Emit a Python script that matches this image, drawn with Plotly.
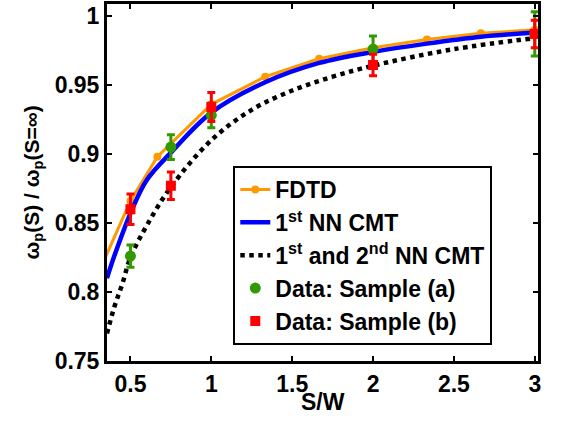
import plotly.graph_objects as go

# ---- data ----
fdtd_x = [1/3, 0.5, 2/3, 1.0, 4/3, 5/3, 2.0, 7/3, 8/3, 3.0]
fdtd_y = [0.822, 0.866, 0.898, 0.936, 0.956, 0.969, 0.977, 0.983, 0.9875, 0.990]

nn1_x = [0.355, 0.4, 0.5, 0.6, 0.75, 1.0, 1.333, 1.667, 2.0, 2.333, 2.667, 3.0]
nn1_y = [0.810, 0.826, 0.857, 0.881, 0.901, 0.930, 0.952, 0.966, 0.974, 0.980, 0.985, 0.988]

nn2_x = [0.355, 0.4, 0.45, 0.5, 0.6, 0.75, 1.0, 1.25, 1.5, 1.75, 2.0, 2.5, 3.0]
nn2_y = [0.770, 0.789, 0.806, 0.825, 0.848, 0.876, 0.910, 0.932, 0.946, 0.956, 0.964, 0.976, 0.984]

sa_x = [0.5, 0.75, 1.0, 2.0, 3.0]
sa_y = [0.826, 0.905, 0.928, 0.976, 0.987]
sa_err = [0.008, 0.009, 0.009, 0.0095, 0.016]

sb_x = [0.5, 0.75, 1.0, 2.0, 3.0]
sb_y = [0.860, 0.877, 0.934, 0.9645, 0.987]
sb_err = [0.011, 0.010, 0.0105, 0.0078, 0.010]

x_ticks = [0.5, 1, 1.5, 2, 2.5, 3]
x_labels = ["0.5", "1", "1.5", "2", "2.5", "3"]
y_ticks = [0.75, 0.8, 0.85, 0.9, 0.95, 1.0]
y_labels = ["0.75", "0.8", "0.85", "0.9", "0.95", "1"]

x_title = "S/W"
y_title = "ω<sub>p</sub>(S) / ω<sub>p</sub>(S=∞)"

FONT = "Liberation Sans, Arial, sans-serif"
ORANGE = "#FF9900"
GREEN = "#339900"
RED = "#FF0000"

fig = go.Figure()
fig.add_trace(go.Scatter(x=fdtd_x, y=fdtd_y, mode="lines+markers", name="FDTD",
                         line=dict(color=ORANGE, width=3),
                         marker=dict(color=ORANGE, size=8, symbol="circle")))
fig.add_trace(go.Scatter(x=nn1_x, y=nn1_y, mode="lines", name="1<sup>st</sup> NN CMT",
                         line=dict(color="#0000FF", width=4.5, shape="spline")))
fig.add_trace(go.Scatter(x=nn2_x, y=nn2_y, mode="lines",
                         name="1<sup>st</sup> and 2<sup>nd</sup> NN CMT",
                         line=dict(color="black", width=4.5, dash="dot", shape="spline")))
fig.add_trace(go.Scatter(x=sa_x, y=sa_y, mode="markers", name="Data: Sample (a)",
                         marker=dict(color=GREEN, size=11, symbol="circle"),
                         error_y=dict(type="data", array=sa_err, color=GREEN,
                                      thickness=3, width=4),
                         cliponaxis=False))
fig.add_trace(go.Scatter(x=sb_x, y=sb_y, mode="markers", name="Data: Sample (b)",
                         marker=dict(color=RED, size=10, symbol="square"),
                         error_y=dict(type="data", array=sb_err, color=RED,
                                      thickness=3, width=4),
                         cliponaxis=False))

axis_common = dict(showline=True, linecolor="black", linewidth=3, mirror="ticks",
                   ticks="inside", ticklen=5, tickwidth=2, tickcolor="black",
                   showgrid=False, zeroline=False, automargin=False,
                   tickfont=dict(family=FONT, size=23, color="black", weight="bold"))

fig.update_xaxes(range=[0.355, 3.02], tickvals=x_ticks, ticktext=x_labels, **axis_common)
fig.update_yaxes(range=[0.75, 1.0087], tickvals=y_ticks, ticktext=y_labels, **axis_common)

fig.add_annotation(text=x_title, xref="paper", yref="paper", x=0.5, y=0,
                   xanchor="center", yanchor="middle", yshift=-41, showarrow=False,
                   font=dict(family=FONT, size=23, color="black", weight="bold"))
fig.add_annotation(text=y_title, xref="paper", yref="paper", x=0, y=0.5,
                   xanchor="center", yanchor="middle", xshift=-75, textangle=-90,
                   showarrow=False,
                   font=dict(family=FONT, size=21, color="black", weight="bold"))

fig.update_layout(
    width=564, height=422,
    margin=dict(l=107, r=26, t=4, b=61),
    paper_bgcolor="white", plot_bgcolor="white",
    font=dict(family=FONT, color="black"),
    legend=dict(x=0.293, y=0.045, xanchor="left", yanchor="bottom",
                bgcolor="white", bordercolor="black", borderwidth=2,
                font=dict(family=FONT, size=23, color="black", weight="bold"),
                tracegroupgap=0, itemwidth=30),
)

fig.write_html("out.html", config={"displayModeBar": False},
               post_script="document.body.style.margin='0';")
